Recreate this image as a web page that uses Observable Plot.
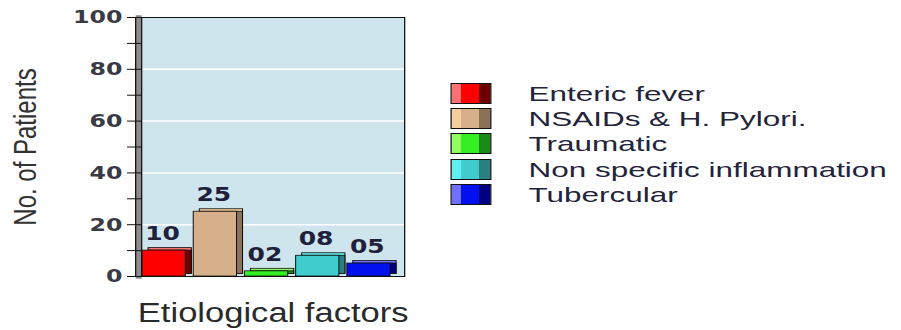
<!DOCTYPE html>
<html><head><meta charset="utf-8">
<script src="https://cdn.jsdelivr.net/npm/d3@7"></script>
<script src="https://cdn.jsdelivr.net/npm/@observablehq/plot@0.6"></script>
<style>
body{margin:0;background:#fff;}
#wrap{position:relative;width:704px;height:330px;transform:scaleX(1.2798);transform-origin:0 0;font-family:"Liberation Sans",Arial,sans-serif;}
#legend{position:absolute;left:352.4px;top:81px;}
.row{display:flex;align-items:center;height:25.2px;}
.sw{width:32px;height:21px;border:1.3px solid #111;box-sizing:border-box;margin-right:29px;flex:none;}
.lab{font-size:21px;color:#23233a;white-space:nowrap;line-height:1;transform:scaleX(1.17);transform-origin:0 50%;}
</style></head><body>
<div id="wrap"><div id="chart"></div><div id="legend"></div></div>
<script>
const categories = ["Enteric fever","NSAIDs & H. Pylori.","Traumatic","Non specific inflammation","Tubercular"];
const patients = [10,25,2,8,5];
const valueLabels = ["10","25","02","08","05"];
const yTicks = [0,20,40,60,80,100];
const yMinorTicks = [10,30,50,70,90];
const gridTicks = [20,40,60,80];
const faceColors = ["#ff0000","#d5b08a","#33ee22","#40cccc","#0010ee"];
const sideColors = ["#6e0000","#8c7257","#1a8a1a","#2a8080","#000080"];
const lightColors = ["#ff7070","#f5cfa0","#90ff60","#60f0f0","#7070ff"];

const data = categories.map((c,i)=>({category:c, value:patients[i], label:valueLabels[i], face:faceColors[i], side:sideColors[i], light:lightColors[i]}));

const chart = Plot.plot({
  width: 704, height: 330,
  marginLeft: 110.2, marginRight: 388.3, marginTop: 17, marginBottom: 54,
  style: {fontFamily: "DejaVu Sans", background: "transparent", overflow: "visible"},
  x: {domain: categories, range: [110.2, 311], padding: 0, axis: null},
  y: {domain: [0,100], label: null},
  color: {type: "identity"},
  marks: [
    Plot.frame({fill: "#cfe5ee", stroke: null}),
    Plot.gridY(gridTicks, {stroke: "#ffffff", strokeOpacity: 1, strokeWidth: 1.5}),
    Plot.frame({anchor: "left", stroke: "#8c8c8c", strokeWidth: 4.7, dx: -2.35}),
    Plot.frame({anchor: "left", stroke: "#111", strokeWidth: 1, dx: -4.7}),
    Plot.frame({stroke: "#111", strokeWidth: 1}),
    Plot.axisY({ticks: yMinorTicks, tickSize: 11, tickFormat: () => "", label: null, stroke: "#111"}),
    Plot.axisY({ticks: yTicks, tickSize: 11, tickPadding: 4, fontSize: 18.5, fontWeight: "bold", fill: "#3a3a44", stroke: "#111", label: null}),
    Plot.barY(data, {x: "category", y: "value", fill: "light", insetRight: 6.2, dx: 4.7, dy: -2.5, stroke: "#111", strokeWidth: 0.8}),
    Plot.barY(data, {x: "category", y: "value", fill: "side", insetRight: 6.2, insetTop: 2.5, dx: 4.7, dy: -2.5, stroke: "#111", strokeWidth: 0.8}),
    Plot.barY(data, {x: "category", y: "value", fill: "face", insetRight: 6.2, stroke: "#111", strokeWidth: 0.8}),
    Plot.text(data, {x: "category", y: "value", text: "label", dy: -17, dx: -4.5, fontSize: 19.5, fontWeight: "bold", fill: "#20203a", lineAnchor: "middle"}),
    Plot.text(["No. of Patients"], {text: d => d, frameAnchor: "left", dx: -90, rotate: -90, fontSize: 24, fontFamily: "Liberation Sans", fill: "#333", textAnchor: "middle", lineAnchor: "middle"}),
    Plot.text(["Etiological factors"], {text: d => d, frameAnchor: "bottom", dy: 37, fontSize: 27, fontFamily: "Liberation Sans", fill: "#2a2a2a", textAnchor: "middle", lineAnchor: "middle"})
  ]
});
document.getElementById("chart").appendChild(chart);

const legend = d3.select("#legend");
categories.forEach((c,i) => {
  const row = legend.append("div").attr("class","row");
  row.append("div").attr("class","sw")
    .style("background", `linear-gradient(to right, ${lightColors[i]} 0 25%, ${faceColors[i]} 25% 70%, ${sideColors[i]} 70% 100%)`);
  row.append("div").attr("class","lab").text(c);
});
</script>
</body></html>
